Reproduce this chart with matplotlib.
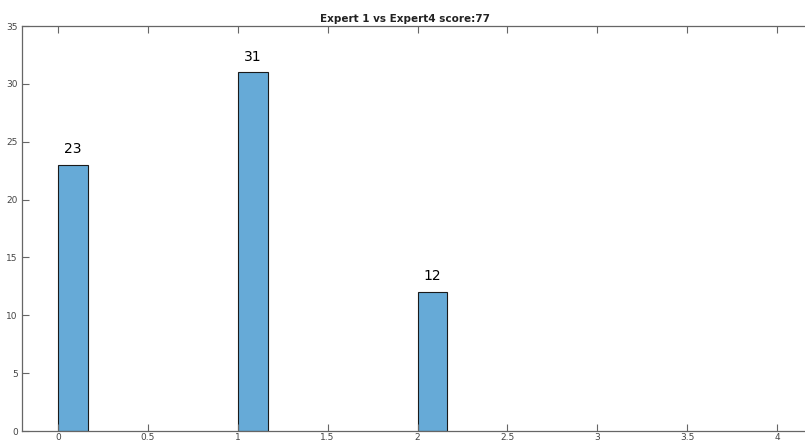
import matplotlib
matplotlib.use("Agg")
import matplotlib.pyplot as plt

categories = [0, 1, 2]
counts = [23, 31, 12]
title = "Expert 1 vs Expert4 score:77"
xticks = [0, 0.5, 1, 1.5, 2, 2.5, 3, 3.5, 4]
xticklabels = ["0", "0.5", "1", "1.5", "2", "2.5", "3", "3.5", "4"]
yticks = [0, 5, 10, 15, 20, 25, 30, 35]

W, H = 805, 444
fig = plt.figure(figsize=(W / 100, H / 100), dpi=100)
left, right, top, bottom = 22, 813, 26, 431
ax = fig.add_axes([left / W, 1 - bottom / H, (right - left) / W, (bottom - top) / H])

bars = ax.bar(categories, counts, width=1 / 6, align="edge",
              color="#66AAD7", edgecolor="#1a1a1a", linewidth=0.8)
for x, c in zip(categories, counts):
    ax.text(x + 1 / 12, c + 0.75, str(c), ha="center", va="bottom", fontsize=10, color="black")

ax.set_xlim(-0.2, 4.2)
ax.set_ylim(0, 35)
ax.set_xticks(xticks)
ax.set_xticklabels(xticklabels)
ax.set_yticks(yticks)
ax.tick_params(direction="in", top=True, right=True, length=5, width=0.8,
               colors="#666666", labelsize=6.5, labelcolor="#444444")
ax.tick_params(axis="x", pad=1.5)
ax.tick_params(axis="y", pad=3)
for s in ax.spines.values():
    s.set_color("#666666")
    s.set_linewidth(0.9)
ax.set_title(title, fontsize=7.5, fontweight="bold", pad=3, color="#222222",
             x=(405 - left) / (right - left))

fig.savefig("out.png", dpi=100)
